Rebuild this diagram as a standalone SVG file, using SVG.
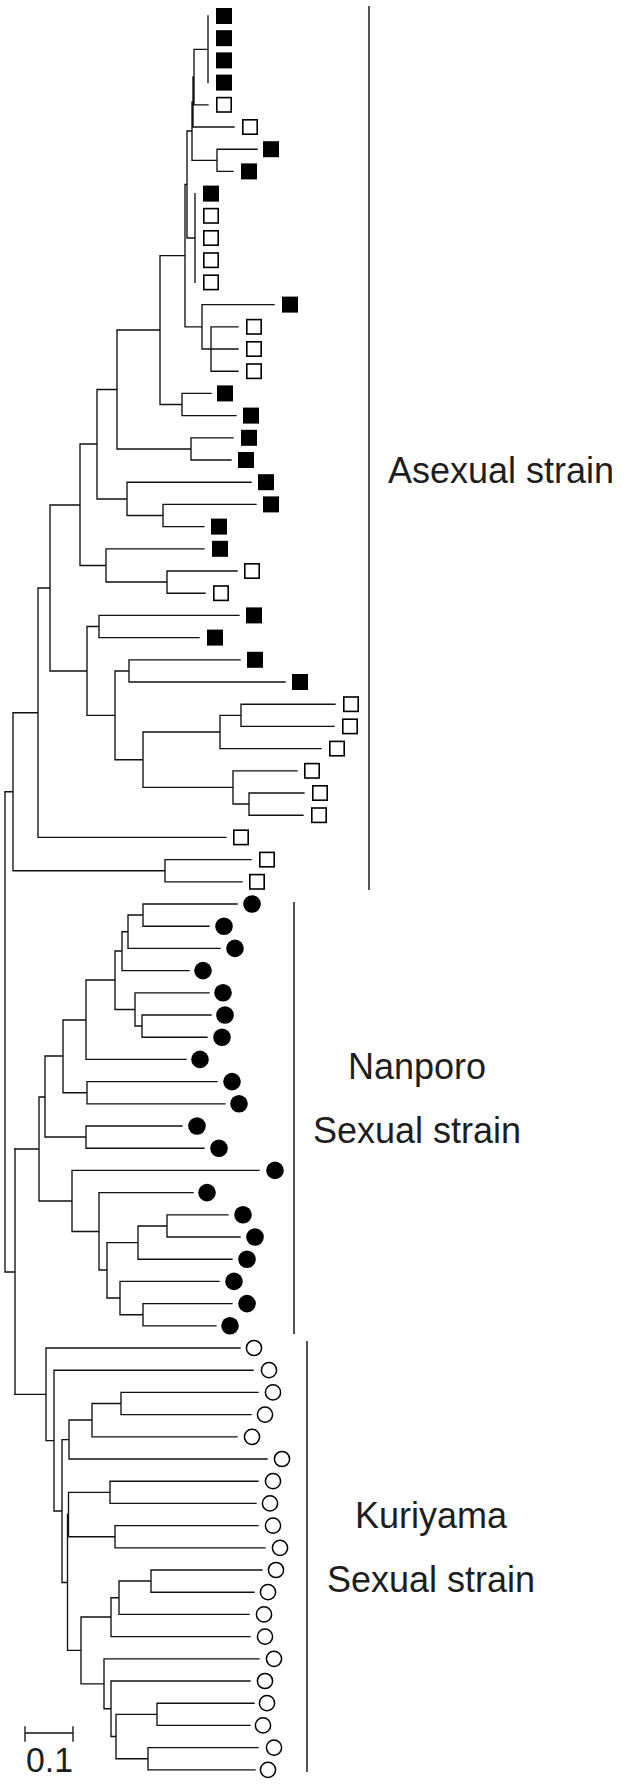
<svg xmlns="http://www.w3.org/2000/svg" xmlns:xlink="http://www.w3.org/1999/xlink" width="625" height="1789" viewBox="0 0 625 1789">
<style>
.br{fill:none;stroke:#111;stroke-width:1.35;stroke-linecap:square}
.bk{fill:none;stroke:#2a2a2a;stroke-width:1.6}
.lb{font-family:"Liberation Sans",Arial,sans-serif;font-size:36px;fill:#1e1e1e}
</style>
<defs>
<rect id="sf" x="0" y="-8" width="16" height="16" fill="#000"/>
<rect id="so" x="0.8" y="-7.2" width="14.4" height="14.4" fill="#fff" stroke="#000" stroke-width="1.6"/>
<circle id="cf" r="8.8" fill="#000"/>
<circle id="co" r="7.6" fill="#fff" stroke="#000" stroke-width="1.5"/>
</defs>
<rect width="625" height="1789" fill="#fff"/>
<g id="connectors">
<path class="br" d="M194 49.3H208M208 16V82.6M193 77H194M194 49.3V104.8M194 104.8H208M192 102H193M193 77V127M193 127H234M187 131H192M192 102V160.3M192 160.3H217M217 149.2V171.4M217 149.2H257M217 171.4H233M187 238H195M195 193.6V282.4M185 184.5H187M187 131V238M185 326.8H202M202 304.6V349M202 304.6H274M202 349H211M211 326.8V371.2M211 326.8H238M211 349H238M211 371.2H238M160 255.6H185M185 184.5V326.8M160 404.5H182M182 393.4V415.6M182 393.4H211M182 415.6H236M117 330H160M160 255.6V404.5M117 449H191M191 437.8V460M191 437.8H233M191 460H231M97 389.5H117M117 330V449M97 499H127M127 482.2V515.5M127 482.2H251M127 515.5H163M163 504.4V526.6M163 504.4H256M163 526.6H204M80 444H97M97 389.5V499M80 565.5H106M106 548.8V582M106 548.8H204M106 582H167M167 571V593.2M167 571H237M167 593.2H205M50 505H80M80 444V565.5M87 626.5H99M99 615.4V637.6M99 615.4H239M99 637.6H199M115 671H129M129 659.8V682M129 659.8H240M129 682H285M220 715.3H241M241 704.2V726.4M241 704.2H335M241 726.4H334M143 732H220M220 715.3V748.6M220 748.6H321M233 804H249M249 793V815.2M249 793H304M249 815.2H303M143 787.4H233M233 770.8V804M233 770.8H297M115 759.7H143M143 732V787.4M87 715.3H115M115 671V759.7M50 671H87M87 626.5V715.3M38 588H50M50 505V671M13 712.7H38M38 588V837.4M38 837.4H226M13 870.7H165M165 859.6V881.8M165 859.6H251M165 881.8H242M5 791.7H13M13 712.7V870.7M5 791.7V1272M5 1272H15M15 1149V1394.3"/>
<path class="br" d="M128 915H143M143 904V926.2M143 904H237M143 926.2H209M122 931.7H128M128 915V948.4M128 948.4H220M115 951H122M122 931.7V970.6M122 970.6H189M135 1026H142M142 1015V1037.2M142 1015H211M142 1037.2H207M115 1009.5H135M135 992.8V1026M135 992.8H209M86 980H115M115 951V1009.5M63 1020H86M86 980V1059.4M86 1059.4H186M63 1092.7H87M87 1081.6V1103.8M87 1081.6H217M87 1103.8H225M45 1056H63M63 1020V1092.7M45 1137H86M86 1126V1148.2M86 1126H182M86 1148.2H204M39 1097H45M45 1056V1137M138 1226H167M167 1214.8V1237M167 1214.8H228M167 1237H240M107 1242.6H138M138 1226V1259.2M138 1259.2H232M120 1314.7H143M143 1303.6V1325.8M143 1303.6H232M143 1325.8H216M107 1298H120M120 1281.4V1314.7M120 1281.4H219M99 1270H107M107 1242.6V1298M72 1231.5H99M99 1192.6V1270M99 1192.6H193M39 1201H72M72 1170.4V1231.5M72 1170.4H259M15 1149H39M39 1097V1201"/>
<path class="br" d="M15 1394.3H46M46 1348V1440.6M46 1348H240M46 1440.6H54M54 1370.2V1511M54 1370.2H253M54 1511H62M62 1439.6V1582.5M62 1439.6H69M69 1420V1459M69 1459H267M69 1420H92M92 1403.5V1436.8M92 1436.8H237M92 1403.5H121M121 1392.4V1414.6M121 1392.4H258M121 1414.6H251M62 1582.5H67.5M67.5 1514.5V1650.4M67.5 1514.5H68.5M68.5 1492.3V1536.7M68.5 1492.3H110M110 1481.2V1503.4M110 1481.2H258M110 1503.4H256M68.5 1536.7H115M115 1525.6V1547.8M115 1525.6H258M115 1547.8H265M67.5 1650.4H81M81 1617V1683.8M81 1617H111M111 1597.7V1636.6M111 1636.6H250M111 1597.7H119M119 1581V1614.4M119 1614.4H249M119 1581H151M151 1570V1592.2M151 1570H262M151 1592.2H254M81 1683.8H104M104 1658.8V1708.7M104 1658.8H259M104 1708.7H111M111 1681V1736.5M111 1681H250M111 1736.5H116M116 1714.3V1758.7M116 1714.3H157M157 1703.2V1725.4M157 1703.2H254M157 1725.4H250M116 1758.7H148M148 1747.6V1769.8M148 1747.6H258M148 1769.8H255"/>
</g>
<g id="asexual-leaves">
<g id="leaf0"><use xlink:href="#sf" x="216" y="16"/></g>
<g id="leaf1"><use xlink:href="#sf" x="216" y="38.2"/></g>
<g id="leaf2"><use xlink:href="#sf" x="216" y="60.4"/></g>
<g id="leaf3"><use xlink:href="#sf" x="216" y="82.6"/></g>
<g id="leaf4"><use xlink:href="#so" x="216" y="104.8"/></g>
<g id="leaf5"><use xlink:href="#so" x="242" y="127"/></g>
<g id="leaf6"><use xlink:href="#sf" x="263" y="149.2"/></g>
<g id="leaf7"><use xlink:href="#sf" x="241" y="171.4"/></g>
<g id="leaf8"><use xlink:href="#sf" x="203" y="193.6"/></g>
<g id="leaf9"><use xlink:href="#so" x="203" y="215.8"/></g>
<g id="leaf10"><use xlink:href="#so" x="203" y="238"/></g>
<g id="leaf11"><use xlink:href="#so" x="203" y="260.2"/></g>
<g id="leaf12"><use xlink:href="#so" x="203" y="282.4"/></g>
<g id="leaf13"><use xlink:href="#sf" x="282" y="304.6"/></g>
<g id="leaf14"><use xlink:href="#so" x="246" y="326.8"/></g>
<g id="leaf15"><use xlink:href="#so" x="246" y="349"/></g>
<g id="leaf16"><use xlink:href="#so" x="246" y="371.2"/></g>
<g id="leaf17"><use xlink:href="#sf" x="217" y="393.4"/></g>
<g id="leaf18"><use xlink:href="#sf" x="243" y="415.6"/></g>
<g id="leaf19"><use xlink:href="#sf" x="241" y="437.8"/></g>
<g id="leaf20"><use xlink:href="#sf" x="238" y="460"/></g>
<g id="leaf21"><use xlink:href="#sf" x="258" y="482.2"/></g>
<g id="leaf22"><use xlink:href="#sf" x="263" y="504.4"/></g>
<g id="leaf23"><use xlink:href="#sf" x="211" y="526.6"/></g>
<g id="leaf24"><use xlink:href="#sf" x="212" y="548.8"/></g>
<g id="leaf25"><use xlink:href="#so" x="244" y="571"/></g>
<g id="leaf26"><use xlink:href="#so" x="213" y="593.2"/></g>
<g id="leaf27"><use xlink:href="#sf" x="246" y="615.4"/></g>
<g id="leaf28"><use xlink:href="#sf" x="207" y="637.6"/></g>
<g id="leaf29"><use xlink:href="#sf" x="247" y="659.8"/></g>
<g id="leaf30"><use xlink:href="#sf" x="292" y="682"/></g>
<g id="leaf31"><use xlink:href="#so" x="343" y="704.2"/></g>
<g id="leaf32"><use xlink:href="#so" x="342" y="726.4"/></g>
<g id="leaf33"><use xlink:href="#so" x="329" y="748.6"/></g>
<g id="leaf34"><use xlink:href="#so" x="304" y="770.8"/></g>
<g id="leaf35"><use xlink:href="#so" x="312" y="793"/></g>
<g id="leaf36"><use xlink:href="#so" x="311" y="815.2"/></g>
<g id="leaf37"><use xlink:href="#so" x="233" y="837.4"/></g>
<g id="leaf38"><use xlink:href="#so" x="259" y="859.6"/></g>
<g id="leaf39"><use xlink:href="#so" x="249" y="881.8"/></g>
</g>
<g id="nanporo-leaves">
<g id="leaf40"><use xlink:href="#cf" x="252" y="904"/></g>
<g id="leaf41"><use xlink:href="#cf" x="224" y="926.2"/></g>
<g id="leaf42"><use xlink:href="#cf" x="235" y="948.4"/></g>
<g id="leaf43"><use xlink:href="#cf" x="203" y="970.6"/></g>
<g id="leaf44"><use xlink:href="#cf" x="223" y="992.8"/></g>
<g id="leaf45"><use xlink:href="#cf" x="225" y="1015"/></g>
<g id="leaf46"><use xlink:href="#cf" x="222" y="1037.2"/></g>
<g id="leaf47"><use xlink:href="#cf" x="200" y="1059.4"/></g>
<g id="leaf48"><use xlink:href="#cf" x="232" y="1081.6"/></g>
<g id="leaf49"><use xlink:href="#cf" x="239" y="1103.8"/></g>
<g id="leaf50"><use xlink:href="#cf" x="197" y="1126"/></g>
<g id="leaf51"><use xlink:href="#cf" x="219" y="1148.2"/></g>
<g id="leaf52"><use xlink:href="#cf" x="275" y="1170.4"/></g>
<g id="leaf53"><use xlink:href="#cf" x="207" y="1192.6"/></g>
<g id="leaf54"><use xlink:href="#cf" x="243" y="1214.8"/></g>
<g id="leaf55"><use xlink:href="#cf" x="255" y="1237"/></g>
<g id="leaf56"><use xlink:href="#cf" x="247" y="1259.2"/></g>
<g id="leaf57"><use xlink:href="#cf" x="234" y="1281.4"/></g>
<g id="leaf58"><use xlink:href="#cf" x="247" y="1303.6"/></g>
<g id="leaf59"><use xlink:href="#cf" x="230" y="1325.8"/></g>
</g>
<g id="kuriyama-leaves">
<g id="leaf60"><use xlink:href="#co" x="254" y="1348"/></g>
<g id="leaf61"><use xlink:href="#co" x="269" y="1370.2"/></g>
<g id="leaf62"><use xlink:href="#co" x="273" y="1392.4"/></g>
<g id="leaf63"><use xlink:href="#co" x="265" y="1414.6"/></g>
<g id="leaf64"><use xlink:href="#co" x="252" y="1436.8"/></g>
<g id="leaf65"><use xlink:href="#co" x="282" y="1459"/></g>
<g id="leaf66"><use xlink:href="#co" x="273" y="1481.2"/></g>
<g id="leaf67"><use xlink:href="#co" x="270" y="1503.4"/></g>
<g id="leaf68"><use xlink:href="#co" x="273" y="1525.6"/></g>
<g id="leaf69"><use xlink:href="#co" x="280" y="1547.8"/></g>
<g id="leaf70"><use xlink:href="#co" x="276" y="1570"/></g>
<g id="leaf71"><use xlink:href="#co" x="268" y="1592.2"/></g>
<g id="leaf72"><use xlink:href="#co" x="264" y="1614.4"/></g>
<g id="leaf73"><use xlink:href="#co" x="265" y="1636.6"/></g>
<g id="leaf74"><use xlink:href="#co" x="274" y="1658.8"/></g>
<g id="leaf75"><use xlink:href="#co" x="265" y="1681"/></g>
<g id="leaf76"><use xlink:href="#co" x="267" y="1703.2"/></g>
<g id="leaf77"><use xlink:href="#co" x="263" y="1725.4"/></g>
<g id="leaf78"><use xlink:href="#co" x="274" y="1747.6"/></g>
<g id="leaf79"><use xlink:href="#co" x="268" y="1769.8"/></g>
</g>
<g id="clade-labels">
<path class="bk" d="M369 6V890M294 902V1334M307 1341V1772"/>
<text class="lb" x="388" y="483">Asexual strain</text>
<text class="lb" x="348" y="1079">Nanporo</text>
<text class="lb" x="313" y="1143">Sexual strain</text>
<text class="lb" x="355" y="1528">Kuriyama</text>
<text class="lb" x="327" y="1592">Sexual strain</text>
</g>
<g id="scale-bar">
<path class="br" d="M25 1733H73M25 1727V1741M73 1727V1741" stroke-linecap="butt"/>
<text class="lb" x="26" y="1772" style="font-size:35px" textLength="47" lengthAdjust="spacingAndGlyphs">0.1</text>
</g>
</svg>
